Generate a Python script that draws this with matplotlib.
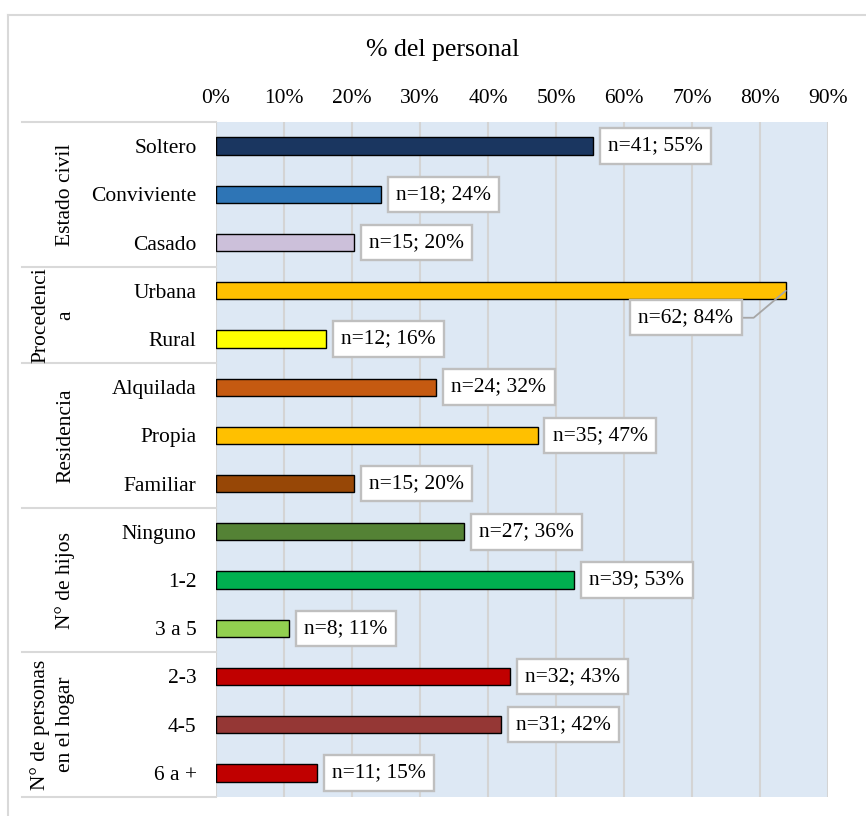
import matplotlib
matplotlib.use('Agg')
import matplotlib.pyplot as plt
import matplotlib.transforms as mtransforms
from matplotlib.lines import Line2D

# --- dados ---
categorias = ["Soltero", "Conviviente", "Casado", "Urbana", "Rural",
              "Alquilada", "Propia", "Familiar", "Ninguno", "1-2", "3 a 5",
              "2-3", "4-5", "6 a +"]
porcentajes = [55.4, 24.3, 20.3, 83.8, 16.2, 32.4, 47.3, 20.3, 36.5, 52.7,
               10.8, 43.2, 41.9, 14.9]
etiquetas = ["n=41; 55%", "n=18; 24%", "n=15; 20%", "n=62; 84%", "n=12; 16%",
             "n=24; 32%", "n=35; 47%", "n=15; 20%", "n=27; 36%", "n=39; 53%",
             "n=8; 11%", "n=32; 43%", "n=31; 42%", "n=11; 15%"]
colores = ["#1a3660", "#2e75b6", "#ccc0da", "#ffc000", "#ffff00",
           "#c55a11", "#ffc000", "#974706", "#548235", "#00b050",
           "#92d050", "#c00000", "#953735", "#c00000"]
grupos = ["Estado civil", "Procedenci\na", "Residencia", "N° de hijos",
          "N° de personas\nen el hogar"]
tam_grupos = [3, 2, 3, 3, 3]
ticks_x = [0, 10, 20, 30, 40, 50, 60, 70, 80, 90]

plt.rcParams['font.family'] = ['Liberation Serif', 'DejaVu Serif']
W, H = 866, 816
fig = plt.figure(figsize=(W / 100, H / 100), dpi=100)
fig.patch.set_facecolor('white')

# marco externo
fig.add_artist(Line2D([8 / W, 1], [1 - 15 / H, 1 - 15 / H], color='#d9d9d9', lw=1.5))
fig.add_artist(Line2D([8 / W, 8 / W], [0, 1 - 15 / H], color='#d9d9d9', lw=1.5))

x0, x1, y0, y1 = 216, 828, 122, 797
ax = fig.add_axes([x0 / W, 1 - y1 / H, (x1 - x0) / W, (y1 - y0) / H])
ax.set_facecolor('#dde8f4')

y = list(range(len(categorias)))
ax.barh(y, porcentajes, height=0.36, color=colores, edgecolor='black',
        linewidth=1, zorder=3)

ax.set_xlim(0, 90)
ax.set_ylim(len(categorias) - 0.5, -0.5)
ax.set_xticks(ticks_x)
ax.set_xticklabels([f"{t}%" for t in ticks_x], fontsize=15.5)
ax.xaxis.tick_top()
ax.tick_params(axis='x', length=0, pad=10)
ax.set_yticks(y)
ax.set_yticklabels(categorias, fontsize=15.5)
ax.tick_params(axis='y', length=0, pad=14)
ax.grid(axis='x', color='#d4d4d4', lw=1.5, zorder=0)
for s in ax.spines.values():
    s.set_visible(False)

caja = dict(boxstyle='square,pad=0.38', facecolor='white', edgecolor='#bfbfbf', lw=1.7)
for i, (v, t) in enumerate(zip(porcentajes, etiquetas)):
    if categorias[i] == "Urbana":
        ax.annotate(t, xy=(v, i), xytext=(-100, -27), textcoords='offset pixels',
                    ha='center', va='center', fontsize=15.5, bbox=caja, zorder=5,
                    arrowprops=dict(arrowstyle='-', color='#a6a6a6', lw=1.3,
                                    shrinkA=0, shrinkB=0,
                                    connectionstyle='angle,angleA=0,angleB=40,rad=0'))
    else:
        ax.annotate(t, xy=(v, i), xytext=(15, 0), textcoords='offset pixels',
                    ha='left', va='center', fontsize=15.5, bbox=caja, zorder=5)

# tabela de grupos a esquerda
trans = mtransforms.blended_transform_factory(ax.transAxes, ax.transData)
xl = (22 - x0) / (x1 - x0)
xg = (75 - x0) / (x1 - x0)
inicio = -0.5
ax.plot([xl, 0], [inicio, inicio], transform=trans, color='#d9d9d9', lw=1.5, clip_on=False)
for g, n in zip(grupos, tam_grupos):
    fim = inicio + n
    ax.plot([xl, 0], [fim, fim], transform=trans, color='#d9d9d9', lw=1.5, clip_on=False)
    ax.text(xg, (inicio + fim) / 2, g, transform=trans, rotation=90, fontsize=15.5,
            ha='right', va='center', multialignment='center', linespacing=1.4)
    inicio = fim

fig.text(443 / W, 1 - 50 / H, "% del personal", fontsize=18.5, ha='center', va='center')

fig.savefig('out.png', dpi=100)
